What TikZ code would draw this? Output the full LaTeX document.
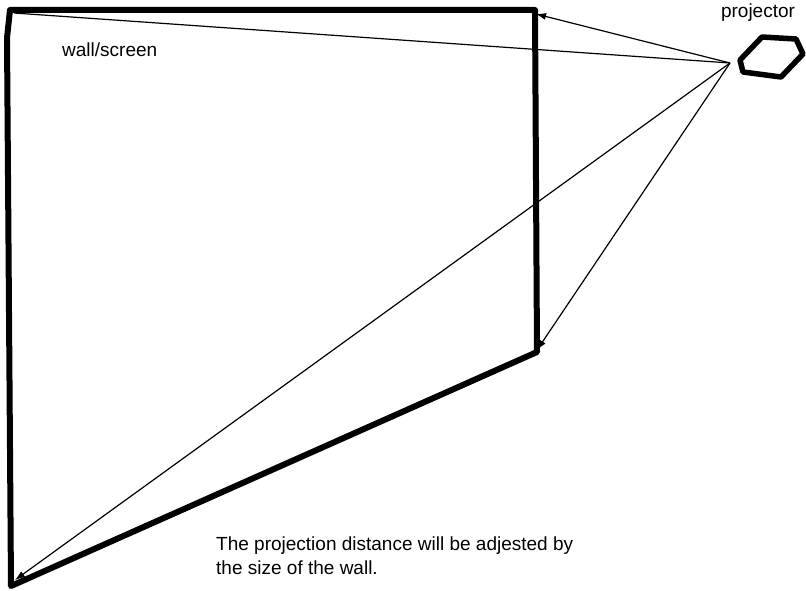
\documentclass[tikz,border=0pt]{standalone}
\usepackage{fontspec}
\setmainfont{Liberation Sans}
\usetikzlibrary{arrows.meta}
\begin{document}
\begin{tikzpicture}[x=1pt,y=-1pt,
  wall/.style={line width=6pt,line join=round},
  ray/.style={line width=1.2pt,-{Latex[length=10pt,width=7pt]}},
  lbl/.style={font=\fontsize{19}{24}\selectfont,inner sep=0pt}]
\useasboundingbox (0,0) rectangle (806,591);
\coordinate (TL) at (10,10);
\coordinate (TLk) at (7,38);
\coordinate (TR) at (535,10);
\coordinate (BR) at (537,352);
\coordinate (BL) at (11,586);
\draw[wall] (TLk) -- (TL) -- (TR) -- (BR) -- (BL) -- (TLk);
\draw[line width=5.5pt,line join=round] (740,60) -- (762,37) -- (796,39) -- (803,54) -- (781,77) -- (743,72) -- cycle;
\coordinate (P) at (730,63);
\node[lbl] (proj) at (758,13) {projector};
\node[lbl,anchor=west] (wl) at (62,50) {wall/screen};
\node[lbl,anchor=north west,align=left] (note) at (216,537) {The projection distance will be adjested by\\the size of the wall.};
\draw[ray] (P) -- (536,14);
\draw[line width=1.2pt] (P) -- (14,13);
\draw[ray] (P) -- (537,350);
\draw[ray] (P) -- (15,580);
\end{tikzpicture}
\end{document}
